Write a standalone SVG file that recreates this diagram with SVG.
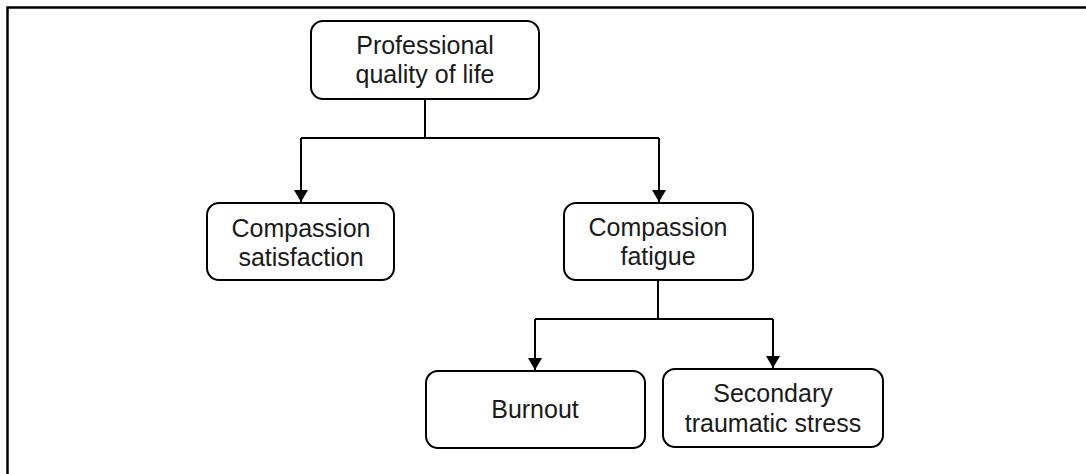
<svg xmlns="http://www.w3.org/2000/svg" width="1086" height="474" viewBox="0 0 1086 474">
  <style>
    .box { fill: #ffffff; stroke: #000000; stroke-width: 2; }
    .lbl { font-family: "Liberation Sans", Arial, sans-serif; font-size: 25px; fill: #1a1a1a; text-anchor: middle; }
    .wire { fill: none; stroke: #000000; stroke-width: 2; }
  </style>
  <defs>
    <marker id="arrow" viewBox="0 0 12 14" refX="12" refY="7" markerWidth="12" markerHeight="14" markerUnits="userSpaceOnUse" orient="auto">
      <path d="M0,0 L12,7 L0,14 Z" fill="#000000"/>
    </marker>
  </defs>
  <rect width="1086" height="474" fill="#ffffff"/>
  <!-- outer frame -->
  <path d="M7.5,480 L7.5,7.5 L1090,7.5" fill="none" stroke="#000000" stroke-width="2.5"/>

  <g id="connectors">
    <path class="wire" d="M425,99 L425,138"/>
    <path class="wire" d="M301,138 L659,138"/>
    <path class="wire" d="M301,138 L301,202" marker-end="url(#arrow)"/>
    <path class="wire" d="M659,138 L659,202" marker-end="url(#arrow)"/>
    <path class="wire" d="M658,280 L658,319"/>
    <path class="wire" d="M535,319 L773,319"/>
    <path class="wire" d="M535,319 L535,370" marker-end="url(#arrow)"/>
    <path class="wire" d="M773,319 L773,368" marker-end="url(#arrow)"/>
  </g>

  <g id="proqol">
    <rect class="box" x="311" y="21" width="228" height="78" rx="12"/>
    <text class="lbl" x="425" y="54">Professional</text>
    <text class="lbl" x="425" y="83">quality of life</text>
  </g>

  <g id="satisfaction">
    <rect class="box" x="207" y="203" width="187" height="77" rx="12"/>
    <text class="lbl" x="301" y="237">Compassion</text>
    <text class="lbl" x="301" y="266">satisfaction</text>
  </g>

  <g id="fatigue">
    <rect class="box" x="564" y="203" width="189" height="77" rx="12"/>
    <text class="lbl" x="658" y="236">Compassion</text>
    <text class="lbl" x="658" y="265">fatigue</text>
  </g>

  <g id="burnout">
    <rect class="box" x="426" y="371" width="219" height="77" rx="12"/>
    <text class="lbl" x="535" y="418">Burnout</text>
  </g>

  <g id="sts">
    <rect class="box" x="663" y="369" width="220" height="78" rx="12"/>
    <text class="lbl" x="773" y="402">Secondary</text>
    <text class="lbl" x="773" y="432">traumatic stress</text>
  </g>
</svg>
